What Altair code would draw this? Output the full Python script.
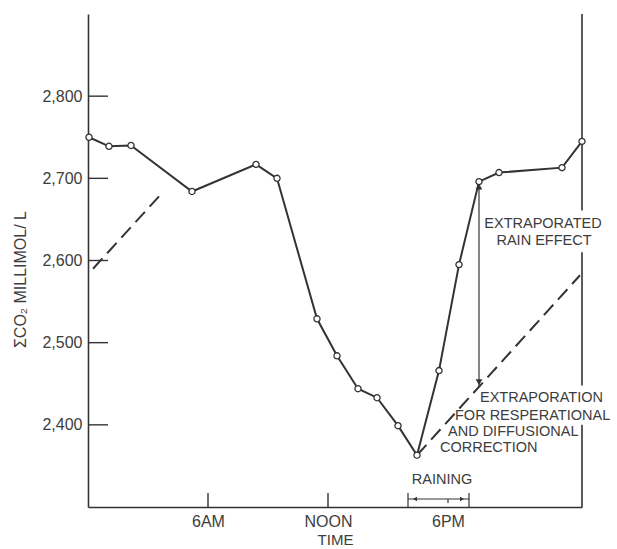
import altair as alt
import pandas as pd

# Total dissolved CO2 through one day (millimol/L, x1000), time in hours after midnight
hours = [0.05, 1.05, 2.15, 5.2, 8.4, 9.45, 11.45, 12.45, 13.5, 14.45, 15.5,
         16.45, 17.55, 18.55, 19.55, 20.55, 23.7, 24.7]
co2 = [2750, 2739, 2740, 2684, 2717, 2700, 2529, 2484, 2444, 2433, 2399,
       2363, 2466, 2595, 2696, 2707, 2713, 2745]

# Extrapolated trend lines (dashed)
early_trend_t = [0.25, 3.55]
early_trend_v = [2590, 2678]
late_trend_t = [16.45, 24.6]
late_trend_v = [2363, 2582]

# Rain effect arrow: from the extrapolated line up to the post-rain reading
rain_effect_t = 19.55
rain_effect_v = [2446, 2696]

# Rain period (hours)
rain_start, rain_end = 16.0, 19.05

# Axis ticks
y_ticks = [2400, 2500, 2600, 2700, 2800]
x_ticks = [6, 12, 18]
x_tick_labels = ["6AM", "NOON", "6PM"]

T_MAX = 24.7
V_MIN, V_MAX = 2300, 2900

INK = "#333333"
TXT = "#3d3d3d"
FONT = "Liberation Sans"

W, H = 494, 493

xs = alt.Scale(domain=[0, T_MAX], nice=False, zero=False)
ys = alt.Scale(domain=[V_MIN, V_MAX], nice=False, zero=False)

label_expr = " : ".join(
    f"datum.value == {v} ? '{lab}'" for v, lab in zip(x_ticks, x_tick_labels)
) + " : ''"

main_df = pd.DataFrame({"t": hours, "v": co2})

x_axis = alt.Axis(values=x_ticks, labelExpr=label_expr, ticks=False, grid=False,
                  domainColor=INK, domainWidth=1.6, labelFont=FONT, labelFontSize=16,
                  labelColor=TXT, labelPadding=6, title="TIME", titleFont=FONT,
                  titleFontSize=15, titleFontWeight="normal", titleColor=TXT,
                  titlePadding=3)
y_axis = alt.Axis(values=y_ticks, format=",d", ticks=False, grid=False,
                  domainColor=INK, domainWidth=1.6, labelFont=FONT, labelFontSize=16,
                  labelColor=TXT, labelPadding=6, title="ΣCO₂ MILLIMOL/ L",
                  titleFont=FONT, titleFontSize=16, titleFontWeight="normal",
                  titleColor=TXT, titleX=-68, titleY=265, titleAngle=270,
                  titleAlign="center", titleBaseline="middle")

line = alt.Chart(main_df).mark_line(color=INK, strokeWidth=2).encode(
    x=alt.X("t:Q", scale=xs, axis=x_axis),
    y=alt.Y("v:Q", scale=ys, axis=y_axis),
)
points = alt.Chart(main_df).mark_point(
    shape="circle", filled=True, fill="white", stroke=INK, strokeWidth=1.3,
    size=38, opacity=1
).encode(x=alt.X("t:Q", scale=xs), y=alt.Y("v:Q", scale=ys))


def dashed(ts, vs):
    df = pd.DataFrame({"t": ts, "v": vs})
    return alt.Chart(df).mark_line(color=INK, strokeWidth=2, strokeDash=[14, 7]).encode(
        x=alt.X("t:Q", scale=xs), y=alt.Y("v:Q", scale=ys))


early = dashed(early_trend_t, early_trend_v)
late = dashed(late_trend_t, late_trend_v)

# Right-hand frame line, broken where the annotation text crosses it
frame_df = pd.DataFrame({"t": [T_MAX] * 3, "v": [2661, 2448, V_MIN],
                         "v2": [V_MAX, 2610, 2400]})
frame = alt.Chart(frame_df).mark_rule(color=INK, strokeWidth=1.6).encode(
    x=alt.X("t:Q", scale=xs), y=alt.Y("v:Q", scale=ys), y2="v2:Q")

# Inward tick marks
ytick_df = pd.DataFrame({"v": y_ticks})
yticks = alt.Chart(ytick_df).mark_rule(color=INK, strokeWidth=1.4).encode(
    y=alt.Y("v:Q", scale=ys), x=alt.value(0), x2=alt.value(20))
xtick_df = pd.DataFrame({"t": x_ticks[:2]})
xticks = alt.Chart(xtick_df).mark_rule(color=INK, strokeWidth=1.4).encode(
    x=alt.X("t:Q", scale=xs), y=alt.value(H - 14), y2=alt.value(H))

# Double-headed arrow for the rain effect
arrow_df = pd.DataFrame({"t": [rain_effect_t], "v": [rain_effect_v[0]],
                         "v2": [rain_effect_v[1]]})
arrow = alt.Chart(arrow_df).mark_rule(color=INK, strokeWidth=1.2).encode(
    x=alt.X("t:Q", scale=xs), y=alt.Y("v:Q", scale=ys), y2="v2:Q")
head_up = alt.Chart(pd.DataFrame({"t": [rain_effect_t], "v": [rain_effect_v[1] - 6]})).mark_point(
    shape="triangle-up", filled=True, color=INK, size=45, opacity=1).encode(
    x=alt.X("t:Q", scale=xs), y=alt.Y("v:Q", scale=ys))
head_dn = alt.Chart(pd.DataFrame({"t": [rain_effect_t], "v": [rain_effect_v[0] + 6]})).mark_point(
    shape="triangle-down", filled=True, color=INK, size=45, opacity=1).encode(
    x=alt.X("t:Q", scale=xs), y=alt.Y("v:Q", scale=ys))

# "Raining" bracket along the time axis
rain_df = pd.DataFrame({"t": [rain_start], "t2": [rain_end]})
rain_bar = alt.Chart(rain_df).mark_rule(color=INK, strokeWidth=1.2).encode(
    x=alt.X("t:Q", scale=xs), x2="t2:Q", y=alt.value(H - 8))
rain_ends = alt.Chart(pd.DataFrame({"t": [rain_start, rain_end]})).mark_rule(
    color=INK, strokeWidth=1.2).encode(
    x=alt.X("t:Q", scale=xs), y=alt.value(H - 14), y2=alt.value(H))
rain_left = alt.Chart(pd.DataFrame({"t": [rain_start + 0.35]})).mark_point(
    shape="triangle-left", filled=True, color=INK, size=22, opacity=1).encode(
    x=alt.X("t:Q", scale=xs), y=alt.value(H - 8))
rain_right = alt.Chart(pd.DataFrame({"t": [rain_end - 0.35]})).mark_point(
    shape="triangle-right", filled=True, color=INK, size=22, opacity=1).encode(
    x=alt.X("t:Q", scale=xs), y=alt.value(H - 8))
rain_mid = alt.Chart(pd.DataFrame({"t": [18]})).mark_rule(
    color=INK, strokeWidth=1.2).encode(
    x=alt.X("t:Q", scale=xs), y=alt.value(H - 8), y2=alt.value(H - 4))

# Annotation text
centered_notes = pd.DataFrame({
    "text": ["EXTRAPORATED", "RAIN EFFECT", "RAINING"],
    "t": [22.75, 22.8, 17.7],
    "v": [2644, 2624, 2333],
})
left_notes = pd.DataFrame({
    "text": ["EXTRAPORATION", "FOR RESPERATIONAL", "AND DIFFUSIONAL", "CORRECTION"],
    "t": [19.6, 18.35, 18.0, 17.6],
    "v": [2433, 2411, 2391, 2372],
})
notes_c = alt.Chart(centered_notes).mark_text(
    font=FONT, fontSize=14.5, color=TXT, align="center", baseline="middle").encode(
    x=alt.X("t:Q", scale=xs), y=alt.Y("v:Q", scale=ys), text="text:N")
notes_l = alt.Chart(left_notes).mark_text(
    font=FONT, fontSize=14.5, color=TXT, align="left", baseline="middle").encode(
    x=alt.X("t:Q", scale=xs), y=alt.Y("v:Q", scale=ys), text="text:N")

chart = alt.layer(
    line, early, late, frame, yticks, xticks, arrow, head_up, head_dn,
    rain_bar, rain_ends, rain_left, rain_right, rain_mid, points, notes_c, notes_l
).properties(
    width=W, height=H,
    autosize=alt.AutoSizeParams(type="none"),
    padding={"left": 88, "top": 14, "right": 35, "bottom": 42},
    background="white",
).configure_view(stroke=None)

chart.save("out.html", embed_options={"renderer": "svg", "actions": False})
